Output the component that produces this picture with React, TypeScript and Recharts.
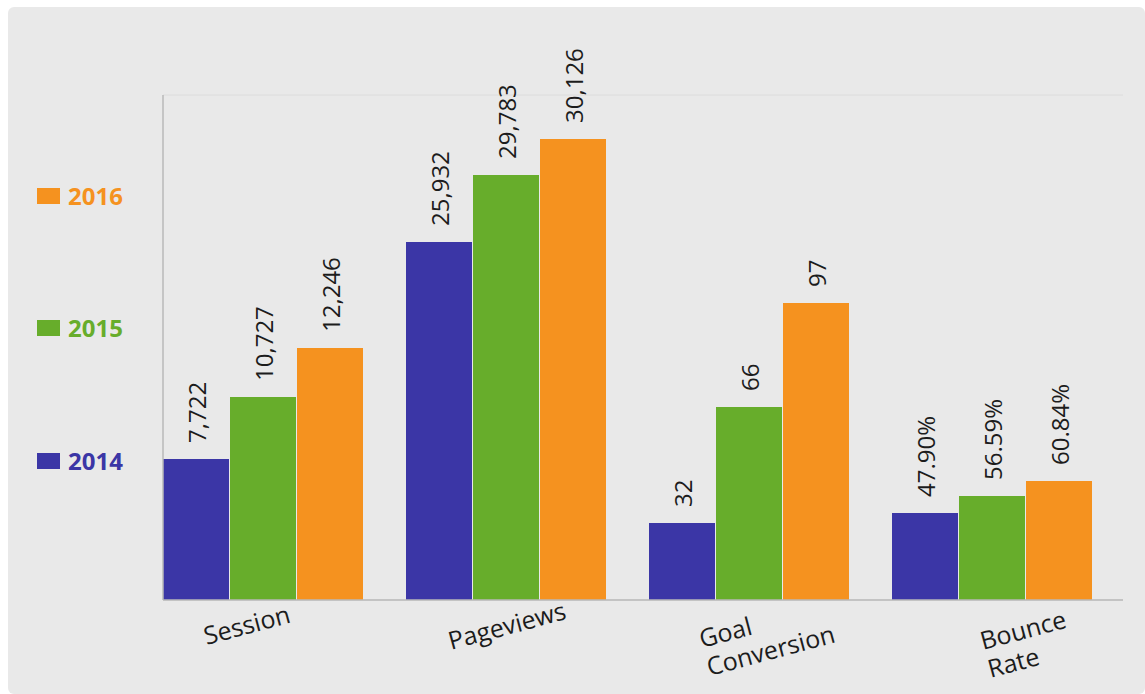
import React from 'react';
import { BarChart, Bar, XAxis, YAxis, CartesianGrid, Legend, LabelList } from 'recharts';

// ---- data ----
const categories = ['Session', 'Pageviews', 'Goal Conversion', 'Bounce Rate'];
const years = ['2014', '2015', '2016'];

// printed values above the bars
const values2014 = ['7,722', '25,932', '32', '47.90%'];
const values2015 = ['10,727', '29,783', '66', '56.59%'];
const values2016 = ['12,246', '30,126', '97', '60.84%'];

// bar heights (each metric has its own scale, read as visual height index, axis top = 505)
const height2014 = [141, 358, 77, 87];
const height2015 = [203, 425, 193, 104];
const height2016 = [252, 461, 297, 119];

const axisMax = 505;
const gridLevels = [140, 271.5, 403];

const COLORS: Record<string, string> = {
  '2014': '#3b36a6',
  '2015': '#67ad2b',
  '2016': '#f5921f',
};

const FONT = "'Open Sans', 'Noto Sans', sans-serif";

const data = categories.map((name, i) => ({
  name,
  h2014: height2014[i],
  h2015: height2015[i],
  h2016: height2016[i],
  v2014: values2014[i],
  v2015: values2015[i],
  v2016: values2016[i],
}));

// layout nudges for the rotated category labels (relative to group centre / axis line)
const tickNudge: Record<string, [number, number]> = {
  Session: [-56, 45],
  Pageviews: [-54.5, 50],
  'Goal Conversion': [-46.5, 48],
  'Bounce Rate': [-8.5, 50],
};

const CategoryTick = (props: any) => {
  const { x, y, payload } = props;
  const label: string = payload.value;
  const [dx, dy] = tickNudge[label] || [0, 45];
  const lines = label.split(' ');
  const multi = label === 'Session' || label === 'Pageviews' ? [label] : lines;
  return (
    <g transform={`translate(${x + dx},${y + dy}) rotate(-15)`}>
      <text x={0} y={0} textAnchor="start" fill="#1c1c1c" fontSize={25} fontFamily={FONT}>
        {multi.map((ln, i) => (
          <tspan key={i} x={0} dy={i === 0 ? 0 : 29}>
            {ln}
          </tspan>
        ))}
      </text>
    </g>
  );
};

const ValueLabel = (props: any) => {
  const { x, y, width, value } = props;
  const cx = x + width / 2;
  const ty = y - 16;
  return (
    <text
      x={cx}
      y={ty}
      transform={`rotate(-90, ${cx}, ${ty})`}
      textAnchor="start"
      dominantBaseline="central"
      fill="#1c1c1c"
      fontSize={24}
      fontFamily={FONT}
    >
      {value}
    </text>
  );
};

const LegendContent = (props: any) => {
  const payload = [...(props.payload || [])].reverse();
  return (
    <div style={{ display: 'flex', flexDirection: 'column' }}>
      {payload.map((p: any, i: number) => (
        <div
          key={p.value}
          style={{
            display: 'flex',
            alignItems: 'center',
            height: 24,
            marginBottom: i < payload.length - 1 ? 108.5 : 0,
          }}
        >
          <span style={{ display: 'inline-block', width: 23, height: 16, background: p.color, marginRight: 8 }} />
          <span
            style={{
              color: p.color,
              fontWeight: 700,
              fontSize: 24,
              lineHeight: '24px',
              fontFamily: FONT,
            }}
          >
            {p.value}
          </span>
        </div>
      ))}
    </div>
  );
};

export default function App() {
  return (
    <div
      style={{
        position: 'absolute',
        left: 8,
        top: 7,
        width: 1137,
        height: 687,
        background: '#e9e9e9',
        borderRadius: 6,
      }}
    >
      <BarChart
        width={1137}
        height={687}
        data={data}
        margin={{ top: 88, right: 22, bottom: 4, left: 95 }}
        barCategoryGap={22}
        barGap={1}
      >
        <CartesianGrid horizontal vertical={false} stroke="#dcdcdc" />
        <XAxis
          dataKey="name"
          height={90}
          padding={{ left: -22, right: 10 }}
          axisLine={{ stroke: '#b8b8b8', strokeWidth: 1.5 }}
          tickLine={false}
          tickSize={0}
          tickMargin={0}
          interval={0}
          tick={<CategoryTick />}
        />
        <YAxis
          width={60}
          domain={[0, axisMax]}
          ticks={gridLevels}
          tick={false}
          tickLine={false}
          axisLine={{ stroke: '#b8b8b8', strokeWidth: 1.5 }}
        />
        <Legend
          layout="vertical"
          align="center"
          verticalAlign="middle"
          content={<LegendContent />}
          wrapperStyle={{ left: 29, top: 176.5, width: 'auto', height: 'auto' }}
        />
        {years.map((yr) => (
          <Bar key={yr} dataKey={`h${yr}`} name={yr} fill={COLORS[yr]} isAnimationActive={false}>
            <LabelList dataKey={`v${yr}`} content={<ValueLabel />} />
          </Bar>
        ))}
      </BarChart>
    </div>
  );
}
